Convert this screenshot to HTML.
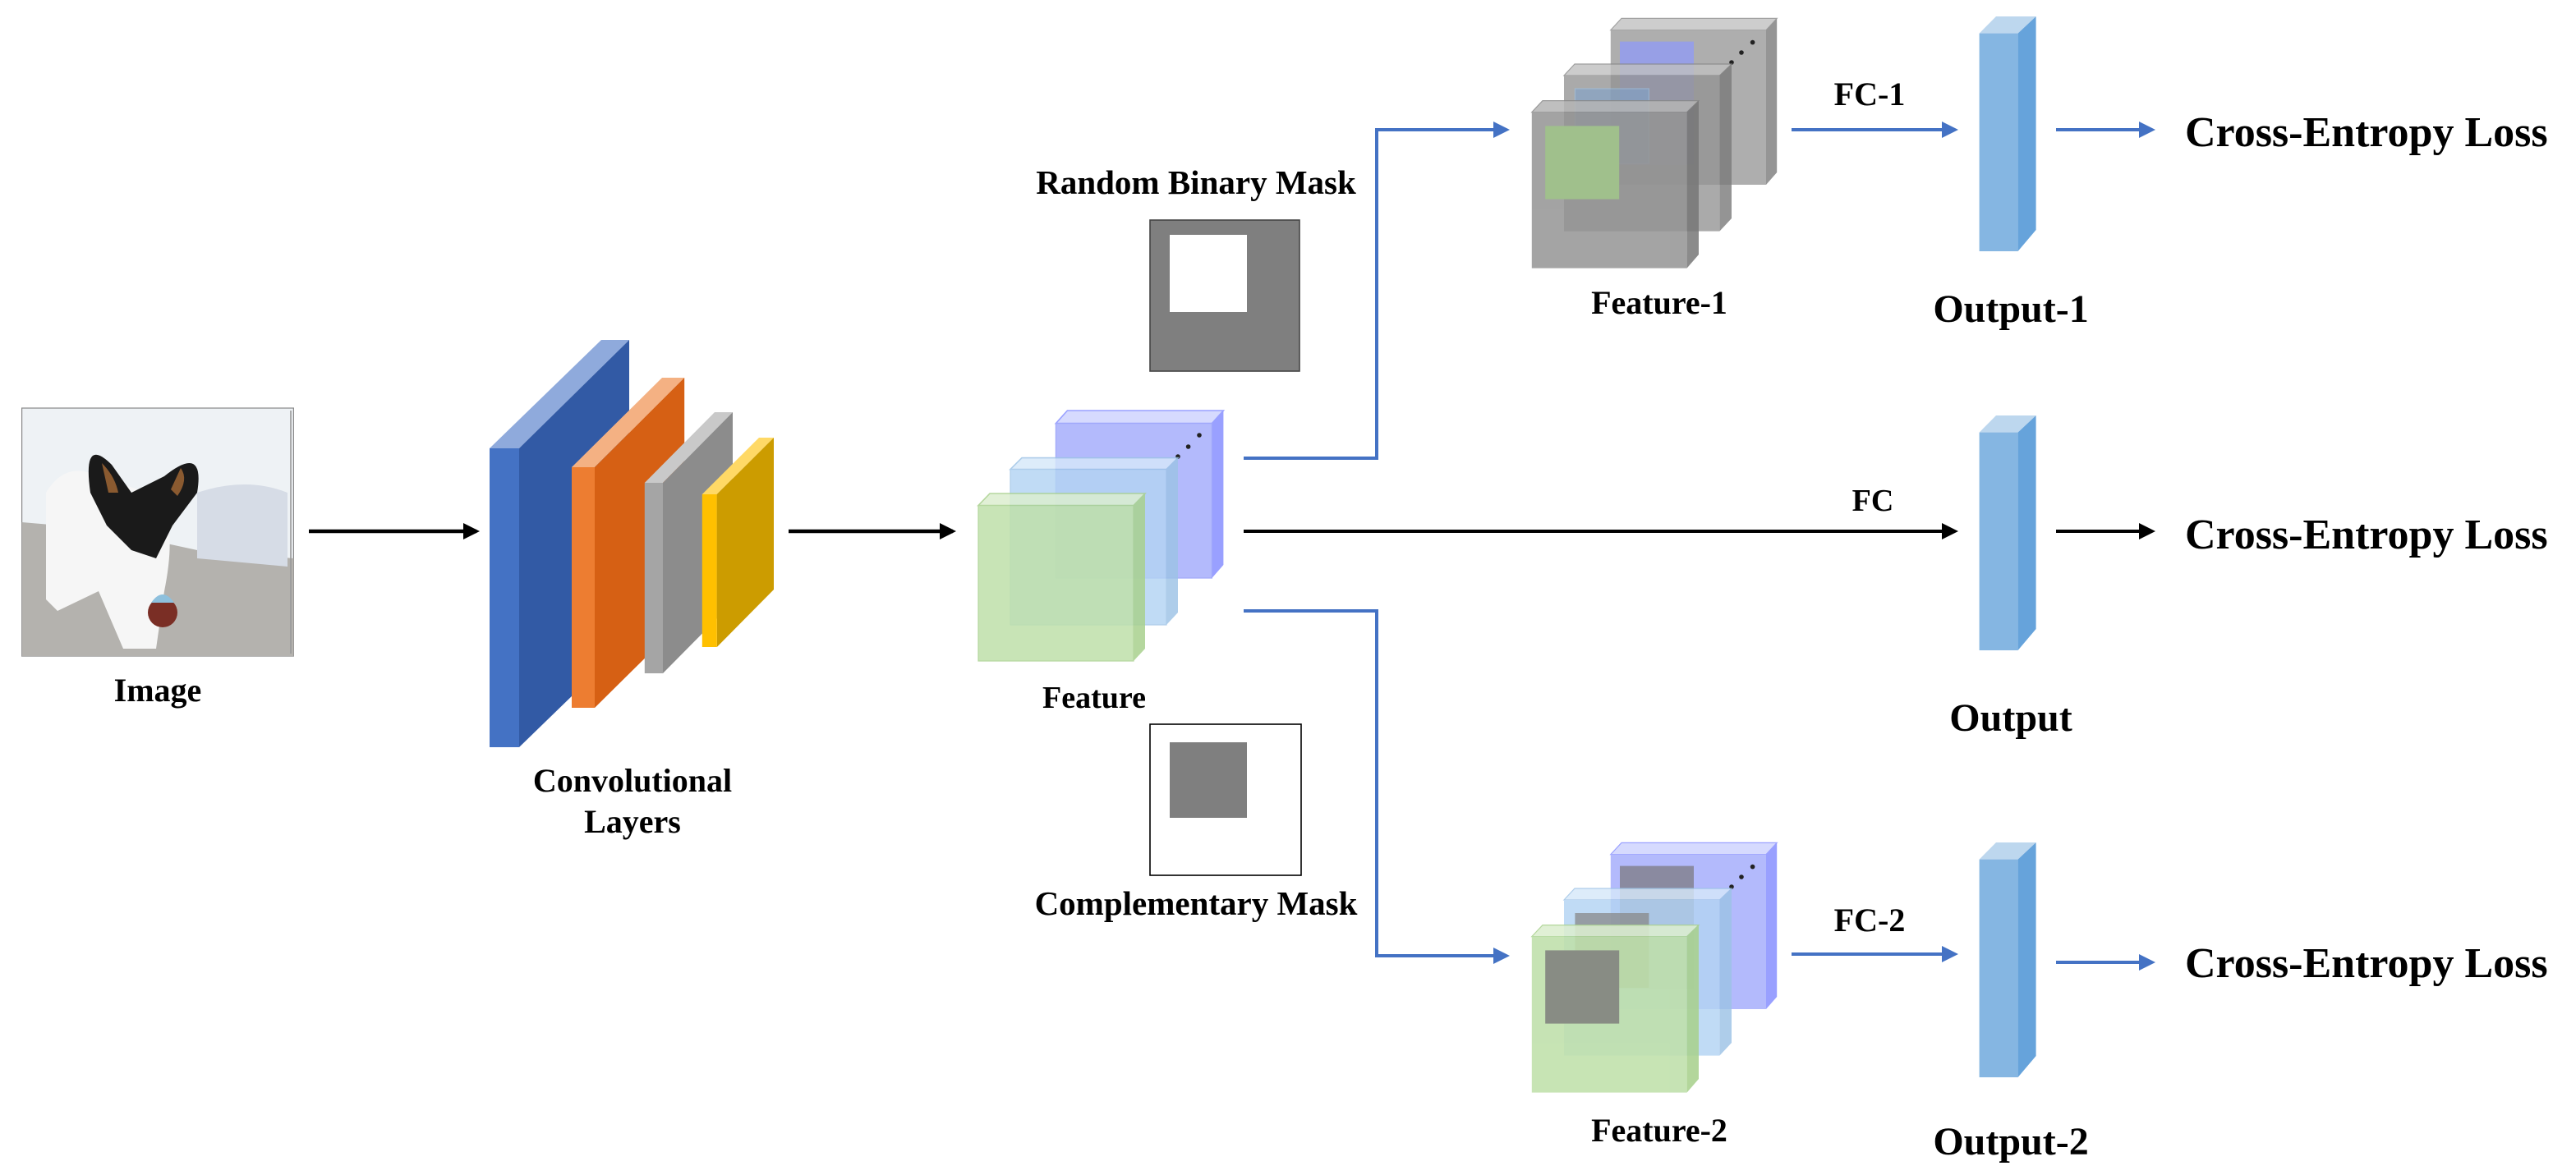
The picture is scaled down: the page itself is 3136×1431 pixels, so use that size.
<!DOCTYPE html>
<html><head><meta charset="utf-8"><style>
html,body{margin:0;padding:0;background:#fff;}
svg{display:block;}
text{font-family:"Liberation Serif",serif;font-weight:bold;fill:#000;}
</style></head><body>
<svg width="3136" height="1431" viewBox="0 0 1568 715.5" xmlns="http://www.w3.org/2000/svg">
<defs>
<marker id="ab" markerWidth="10" markerHeight="10" refX="8" refY="5" orient="auto" markerUnits="userSpaceOnUse"><path d="M0,0 L10,5 L0,10 z" fill="#000"/></marker>
<marker id="au" markerWidth="10" markerHeight="10" refX="8" refY="5" orient="auto" markerUnits="userSpaceOnUse"><path d="M0,0 L10,5 L0,10 z" fill="#4472C4"/></marker>
</defs>

<!-- Image -->
<rect x="13.3" y="248.5" width="165.4" height="151" fill="#EEF2F5" stroke="#888" stroke-width="0.6"/>
<path d="M13.3,318 L60,322 L120,335 L178.7,340 L178.7,399.5 L13.3,399.5 z" fill="#B4B2AE"/>
<path d="M120,300 Q150,290 175,300 L175,345 L120,340 z" fill="#D6DCE6"/>
<path d="M28,300 Q40,280 60,290 L90,300 Q110,310 100,360 L95,395 L75,395 L60,360 L35,372 L28,365 z" fill="#F6F6F6"/>
<path d="M55,300 Q50,265 68,283 L80,300 L100,290 Q125,270 120,300 L105,320 L95,340 L80,335 L65,320 z" fill="#1A1A1A"/>
<path d="M62,282 Q70,290 72,300 L66,300 z" fill="#8A5A30"/>
<path d="M110,285 Q115,292 108,302 L104,298 z" fill="#8A5A30"/>
<circle cx="99" cy="373" r="9" fill="#7A2E25"/>
<path d="M92,367 Q99,357 106,367 z" fill="#8EC0DD"/>
<line x1="177" y1="250" x2="177" y2="398" stroke="#999" stroke-width="0.8"/>
<text x="96" y="427" font-size="20" text-anchor="middle">Image</text>

<line x1="188" y1="323.5" x2="290" y2="323.5" stroke="#000" stroke-width="2.2" marker-end="url(#ab)"/>

<!-- conv layers -->
<polygon points="298,273 366,207 383,207 316,273" fill="#8FAADC"/>
<polygon points="316,273 383,207 383,390 316,455" fill="#325AA5"/>
<rect x="298" y="273" width="18" height="182" fill="#4472C4"/>

<polygon points="348,284.5 403,230 416.6,230 362,284.5" fill="#F4B183"/>
<polygon points="362,284.5 416.6,230 416.6,377 362,431" fill="#D66014"/>
<rect x="348" y="284.5" width="14" height="146.5" fill="#ED7D31"/>

<polygon points="392.4,294 435,251 446,251 403.5,294" fill="#C9C9C9"/>
<polygon points="403.5,294 446,251 446,367 403.5,410" fill="#8C8C8C"/>
<rect x="392.4" y="294" width="11.1" height="116" fill="#A5A5A5"/>

<polygon points="427.4,301 462,266.5 471,266.5 436.4,301" fill="#FFD966"/>
<polygon points="436.4,301 471,266.5 471,359 436.4,394" fill="#CC9C00"/>
<rect x="427.4" y="301" width="9" height="93" fill="#FFC000"/>
<text x="385" y="482" font-size="20" text-anchor="middle">Convolutional</text>
<text x="385" y="507" font-size="20" text-anchor="middle">Layers</text>

<line x1="480" y1="323.5" x2="580" y2="323.5" stroke="#000" stroke-width="2.2" marker-end="url(#ab)"/>

<!-- feature stack -->
<g>
<polygon points="642.7,257.8 649.7,250 744.7,250 737.7,257.8" fill="#D6DAFE" stroke="#99A0FF" stroke-width="0.8"/>
<polygon points="737.7,257.8 744.7,250 744.7,344 737.7,352" fill="#99A0FF"/>
<rect x="642.7" y="257.8" width="95" height="94.2" fill="#B3BAFC" stroke="#A0A8FA" stroke-width="0.6"/>
<circle cx="730" cy="265" r="1.4" fill="#222"/><circle cx="723.3" cy="272" r="1.4" fill="#222"/><circle cx="717" cy="278" r="1.4" fill="#222"/>
<g opacity="0.82">
<polygon points="615,285.8 622,278.8 717,278.8 710,285.8" fill="#D6E8FA" stroke="#9DC3E6" stroke-width="0.8"/>
<polygon points="710,285.8 717,278.8 717,373 710,380.5" fill="#9DC3E6"/>
<rect x="615" y="285.8" width="95" height="94.7" fill="#B3D4F3" stroke="#9DC3E6" stroke-width="0.6"/>
</g>
<g opacity="0.85">
<polygon points="595.5,307.8 602.5,300.5 697,300.5 690,307.8" fill="#DCEED0" stroke="#A9D18E" stroke-width="0.8"/>
<polygon points="690,307.8 697,300.5 697,395 690,402.5" fill="#A9D18E"/>
<rect x="595.5" y="307.8" width="94.5" height="94.7" fill="#BFE0AA" stroke="#A9D18E" stroke-width="0.6"/>
</g>
</g>
<text x="666" y="431" font-size="19" text-anchor="middle">Feature</text>

<!-- masks -->
<text x="728" y="118" font-size="20.5" text-anchor="middle">Random Binary Mask</text>
<rect x="700" y="134" width="91" height="92" fill="#7F7F7F" stroke="#444" stroke-width="0.8"/>
<rect x="712" y="143" width="47" height="47" fill="#fff"/>
<rect x="700" y="441" width="92" height="92" fill="#fff" stroke="#000" stroke-width="0.8"/>
<rect x="712" y="452" width="47" height="46" fill="#7F7F7F"/>
<text x="728" y="557" font-size="20.5" text-anchor="middle">Complementary Mask</text>

<!-- connectors -->
<polyline points="757,279 838,279 838,79 917,79" fill="none" stroke="#4472C4" stroke-width="2" marker-end="url(#au)"/>
<polyline points="757,372 838,372 838,582 917,582" fill="none" stroke="#4472C4" stroke-width="2" marker-end="url(#au)"/>
<line x1="757" y1="323.5" x2="1190" y2="323.5" stroke="#000" stroke-width="2" marker-end="url(#ab)"/>
<text x="1140" y="311" font-size="19" text-anchor="middle">FC</text>

<!-- Feature-1 -->
<g>
<g opacity="0.9">
<polygon points="980.4,18.3 987,11.2 1081.6,11.2 1075,18.3" fill="#C8C8C8" stroke="#999" stroke-width="0.6"/>
<polygon points="1075,18.3 1081.6,11.2 1081.6,105 1075,112.5" fill="#8A8A8A"/>
<rect x="980.4" y="18.3" width="94.6" height="94.2" fill="#A6A6A6"/>
</g>
<rect x="986" y="25.3" width="45" height="75" fill="#979FE6"/>
<circle cx="1066.8" cy="25.8" r="1.4" fill="#222"/><circle cx="1060" cy="32" r="1.4" fill="#222"/><circle cx="1054" cy="38" r="1.4" fill="#222"/>
<g opacity="0.8">
<polygon points="952,46 958.5,39 1054,39 1046.7,46" fill="#C0C0C0" stroke="#888" stroke-width="0.6"/>
<polygon points="1046.7,46 1054,39 1054,133 1046.7,140.8" fill="#7A7A7A"/>
<rect x="952" y="46" width="94.7" height="94.8" fill="#959595"/>
</g>
<rect x="958.7" y="54" width="45" height="45.5" fill="#7FA2CC" opacity="0.6" stroke="#9DC3E6" stroke-width="0.6"/>
<g opacity="0.85">
<polygon points="932.4,68.3 939,61.3 1034,61.3 1026.8,68.3" fill="#B5B5B5" stroke="#888" stroke-width="0.6"/>
<polygon points="1026.8,68.3 1034,61.3 1034,155 1026.8,163.3" fill="#777"/>
<rect x="932.4" y="68.3" width="94.4" height="95" fill="#949494"/>
</g>
<rect x="940.6" y="76.7" width="45" height="44.6" fill="#A0C08C"/>
</g>
<text x="1010" y="191" font-size="20" text-anchor="middle">Feature-1</text>
<text x="1138" y="64" font-size="20" text-anchor="middle">FC-1</text>
<line x1="1090.5" y1="79" x2="1190" y2="79" stroke="#4472C4" stroke-width="2" marker-end="url(#au)"/>

<!-- Feature-2 -->
<g transform="translate(0,502)">
<polygon points="980.4,18.3 987,11.2 1081.6,11.2 1075,18.3" fill="#D6DAFE" stroke="#99A0FF" stroke-width="0.6"/>
<polygon points="1075,18.3 1081.6,11.2 1081.6,105 1075,112.5" fill="#99A0FF"/>
<rect x="980.4" y="18.3" width="94.6" height="94.2" fill="#B3BAFC"/>
<rect x="986" y="25.3" width="45" height="75" fill="#8A8AA0"/>
<circle cx="1066.8" cy="25.8" r="1.4" fill="#222"/><circle cx="1060" cy="32" r="1.4" fill="#222"/><circle cx="1054" cy="38" r="1.4" fill="#222"/>
<g opacity="0.82">
<polygon points="952,46 958.5,39 1054,39 1046.7,46" fill="#D6E8FA" stroke="#9DC3E6" stroke-width="0.6"/>
<polygon points="1046.7,46 1054,39 1054,133 1046.7,140.8" fill="#9DC3E6"/>
<rect x="952" y="46" width="94.7" height="94.8" fill="#B3D4F3"/>
</g>
<rect x="958.7" y="54" width="45" height="45.5" fill="#888" opacity="0.75"/>
<g opacity="0.88">
<polygon points="932.4,68.3 939,61.3 1034,61.3 1026.8,68.3" fill="#DCEED0" stroke="#A9D18E" stroke-width="0.6"/>
<polygon points="1026.8,68.3 1034,61.3 1034,155 1026.8,163.3" fill="#A9D18E"/>
<rect x="932.4" y="68.3" width="94.4" height="95" fill="#BFE0AA"/>
</g>
<rect x="940.6" y="76.7" width="45" height="44.6" fill="#888C84"/>
</g>
<text x="1010" y="695" font-size="20" text-anchor="middle">Feature-2</text>
<text x="1138" y="567" font-size="20" text-anchor="middle">FC-2</text>
<line x1="1090.5" y1="581" x2="1190" y2="581" stroke="#4472C4" stroke-width="2" marker-end="url(#au)"/>

<!-- Output bars -->
<g>
<polygon points="1204.8,20.3 1215,10 1239.3,10 1228.3,20.3" fill="#BDD7EE"/>
<polygon points="1228.3,20.3 1239.3,10 1239.3,140 1228.3,153" fill="#66A3DB"/>
<rect x="1204.8" y="20.3" width="23.5" height="132.7" fill="#85B6E2"/>
</g>
<g transform="translate(0,243)">
<polygon points="1204.8,20.3 1215,10 1239.3,10 1228.3,20.3" fill="#BDD7EE"/>
<polygon points="1228.3,20.3 1239.3,10 1239.3,140 1228.3,153" fill="#66A3DB"/>
<rect x="1204.8" y="20.3" width="23.5" height="132.7" fill="#85B6E2"/>
</g>
<g transform="translate(0,503)">
<polygon points="1204.8,20.3 1215,10 1239.3,10 1228.3,20.3" fill="#BDD7EE"/>
<polygon points="1228.3,20.3 1239.3,10 1239.3,140 1228.3,153" fill="#66A3DB"/>
<rect x="1204.8" y="20.3" width="23.5" height="132.7" fill="#85B6E2"/>
</g>
<text x="1224" y="196" font-size="24" text-anchor="middle">Output-1</text>
<text x="1224" y="445" font-size="24" text-anchor="middle">Output</text>
<text x="1224" y="703" font-size="24" text-anchor="middle">Output-2</text>

<line x1="1251.5" y1="79" x2="1310" y2="79" stroke="#4472C4" stroke-width="2" marker-end="url(#au)"/>
<line x1="1251.5" y1="323.5" x2="1310" y2="323.5" stroke="#000" stroke-width="2" marker-end="url(#ab)"/>
<line x1="1251.5" y1="586" x2="1310" y2="586" stroke="#4472C4" stroke-width="2" marker-end="url(#au)"/>
<text x="1330" y="89" font-size="26">Cross-Entropy Loss</text>
<text x="1330" y="334" font-size="26">Cross-Entropy Loss</text>
<text x="1330" y="595" font-size="26">Cross-Entropy Loss</text>
</svg>
</body></html>
